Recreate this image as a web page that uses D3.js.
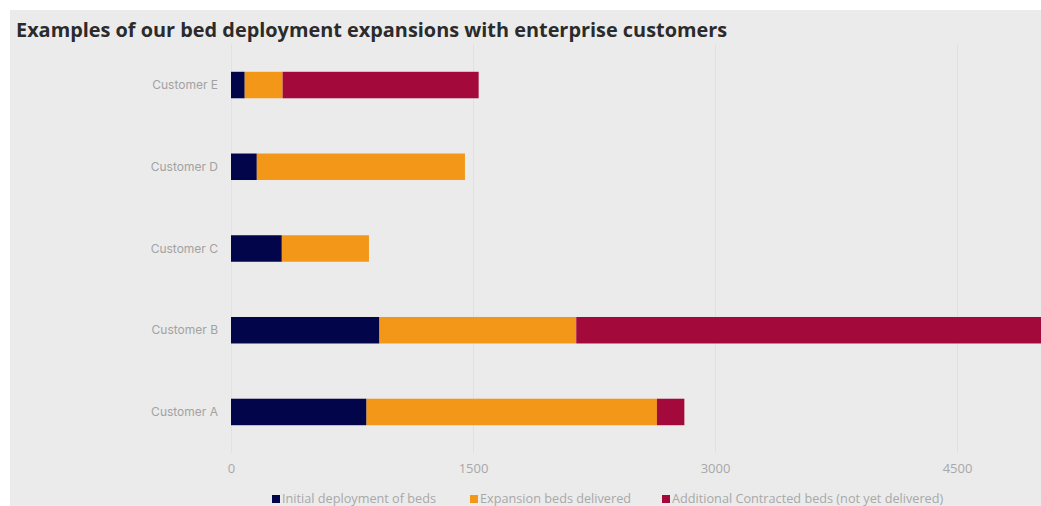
<!DOCTYPE html>
<html>
<head>
<meta charset="utf-8">
<script src="https://cdn.jsdelivr.net/npm/d3@7/dist/d3.min.js"></script>
<style>
  html, body { margin: 0; padding: 0; background: #ffffff; overflow: hidden; }
  svg { display: block; }
</style>
</head>
<body>
<svg id="chart" width="1041" height="506"></svg>
<script>
// Bed counts per enterprise customer, stacked by delivery stage
const categories = ["Customer A", "Customer B", "Customer C", "Customer D", "Customer E"];
const initialBeds = [840, 920, 315, 160, 85];
const expansionBeds = [1800, 1220, 540, 1290, 235];
const contractedBeds = [170, 2950, 0, 0, 1215];
const seriesNames = [
  "Initial deployment of beds",
  "Expansion beds delivered",
  "Additional Contracted beds (not yet delivered)"
];
const seriesColors = ["#02054a", "#f29718", "#a30a3b"];
const tickValues = [0, 1500, 3000, 4500, 6000];
const titleText = "Examples of our bed deployment expansions with enterprise customers";

const svg = d3.select("#chart");
const W = 1041, H = 506;

// panel background
svg.append("rect")
  .attr("x", 10).attr("y", 10)
  .attr("width", W - 10).attr("height", H - 10)
  .attr("fill", "#ebebeb");

// title, sized to span the header width
const title = svg.append("text")
  .attr("x", 16).attr("y", 37)
  .attr("fill", "#2b2b2b")
  .attr("font-family", "'Open Sans', sans-serif")
  .attr("font-weight", 700)
  .attr("font-size", 20)
  .text(titleText);
const tw = title.node().getComputedTextLength();
title.attr("font-size", 20 * 712 / tw);

const plotTop = 44, plotBottom = 453;
const x = d3.scaleLinear().domain([0, 6000]).range([231, 231 + 968]);
const y = d3.scaleBand()
  .domain(categories.slice().reverse())
  .range([plotTop, plotBottom])
  .paddingInner(0.676)
  .paddingOuter(0.34);

// vertical gridlines
svg.append("g").selectAll("line")
  .data(tickValues)
  .join("line")
  .attr("x1", d => x(d) + 0.5).attr("x2", d => x(d) + 0.5)
  .attr("y1", plotTop).attr("y2", plotBottom)
  .attr("stroke", "#e1e1e1")
  .attr("stroke-width", 1);

// stacked bars
const rows = categories.map((c, i) => ({
  category: c,
  s0: initialBeds[i],
  s1: expansionBeds[i],
  s2: contractedBeds[i]
}));
const stack = d3.stack().keys(["s0", "s1", "s2"]);
const layers = stack(rows);

svg.append("g").selectAll("g")
  .data(layers)
  .join("g")
  .attr("fill", (d, i) => seriesColors[i])
  .selectAll("rect")
  .data(d => d.filter(p => p[1] > p[0]))
  .join("rect")
  .attr("x", d => x(d[0]))
  .attr("width", d => x(d[1]) - x(d[0]))
  .attr("y", d => y(d.data.category))
  .attr("height", y.bandwidth());

// category labels
svg.append("g").selectAll("text")
  .data(categories)
  .join("text")
  .attr("x", 218)
  .attr("y", d => y(d) + y.bandwidth() / 2)
  .attr("dy", "0.35em")
  .attr("text-anchor", "end")
  .attr("fill", "#a2a2a2")
  .attr("font-family", "Inter, sans-serif")
  .attr("font-size", 12)
  .text(d => d);

// x tick labels
const xAxis = svg.append("g")
  .attr("transform", `translate(0, ${plotBottom})`)
  .call(d3.axisBottom(x).tickValues(tickValues.filter(v => v <= 4500)).tickSize(0).tickPadding(11).tickFormat(d3.format("d")));
xAxis.select(".domain").remove();
xAxis.selectAll("text")
  .attr("fill", "#a8a8a8")
  .attr("font-family", "'Open Sans', sans-serif")
  .attr("font-size", 13);

// legend
const legendX = [272, 470, 662];
const legend = svg.append("g").selectAll("g")
  .data(seriesNames)
  .join("g")
  .attr("transform", (d, i) => `translate(${legendX[i]}, 495)`);
legend.append("rect")
  .attr("width", 8).attr("height", 8)
  .attr("fill", (d, i) => seriesColors[i]);
legend.append("text")
  .attr("x", 10).attr("y", 8)
  .attr("fill", "#a8a8a8")
  .attr("font-family", "'Open Sans', sans-serif")
  .attr("font-size", 12.7)
  .text(d => d);
</script>
</body>
</html>
